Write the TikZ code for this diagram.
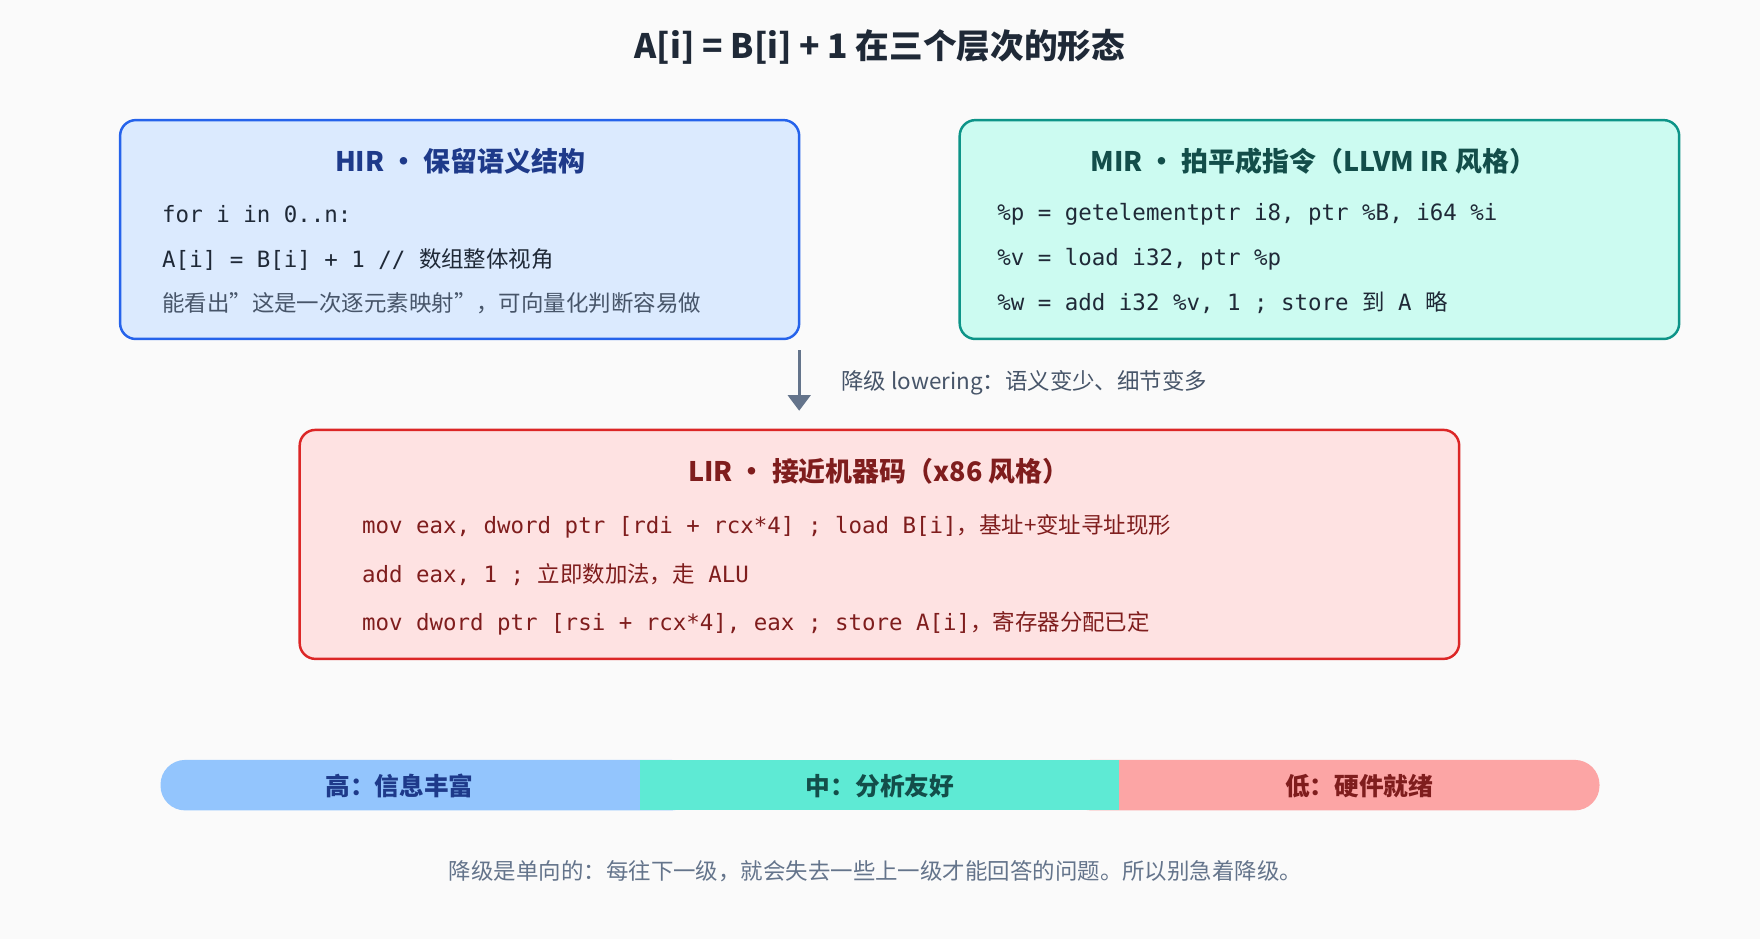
\documentclass[tikz,border=0pt]{standalone}
\usepackage{fontspec}
\setmainfont{Noto Sans CJK SC}
\setmonofont{DejaVu Sans Mono}
\newfontfamily\cjk{Noto Sans CJK SC}
\usetikzlibrary{arrows.meta}
\definecolor{bg}{HTML}{FAFAFA}
\definecolor{ttl}{HTML}{1F2937}
\definecolor{hfill}{HTML}{DBEAFE}\definecolor{hdraw}{HTML}{2563EB}\definecolor{htext}{HTML}{1E3A8A}
\definecolor{mfill}{HTML}{CCFBF1}\definecolor{mdraw}{HTML}{0D9488}\definecolor{mtext}{HTML}{134E4A}
\definecolor{lfill}{HTML}{FEE2E2}\definecolor{ldraw}{HTML}{DC2626}\definecolor{ltext}{HTML}{7F1D1D}
\definecolor{gr}{HTML}{475569}\definecolor{arr}{HTML}{64748B}
\definecolor{b1}{HTML}{93C5FD}\definecolor{b2}{HTML}{5EEAD4}\definecolor{b3}{HTML}{FCA5A5}
\begin{document}
\begin{tikzpicture}[x=1pt,y=-1pt,
 box/.style={rounded corners=14pt,line width=2.2pt},
 btitle/.style={font=\fontsize{24}{28}\selectfont\bfseries},
 code/.style={anchor=west,font=\fontsize{20}{24}\selectfont\ttfamily,text=ttl},
 seg/.style={font=\fontsize{22}{26}\selectfont\bfseries}]
\useasboundingbox[fill=bg] (0,0) rectangle (1568,837);
\node[font=\fontsize{30}{34}\selectfont\bfseries,text=ttl] (title) at (784,42) {A[i] = B[i] + 1 在三个层次的形态};
% HIR
\draw[box,fill=hfill,draw=hdraw] (107,107) rectangle (712,302);
\node[btitle,text=htext] (ht) at (410,144) {HIR • 保留语义结构};
\node[code] (h1) at (141,191) {for i in 0..n:};
\node[code] (h2) at (141,231) {A[i] = B[i] + 1 // {\cjk 数组整体视角}};
\node[anchor=west,font=\fontsize{20}{24}\selectfont,text=gr] (h3) at (141,270) {能看出"这是一次逐元素映射"，可向量化判断容易做};
% MIR
\draw[box,fill=mfill,draw=mdraw] (855,107) rectangle (1496,302);
\node[btitle,text=mtext] (mt) at (1170,144) {MIR • 拍平成指令（LLVM IR 风格）};
\node[code] (m1) at (885,191) {\%p = getelementptr i8, ptr \%B, i64 \%i};
\node[code] (m2) at (885,231) {\%v = load i32, ptr \%p};
\node[code] (m3) at (885,270) {\%w = add i32 \%v, 1 ; store {\cjk 到} A {\cjk 略}};
% arrow
\coordinate (a1) at (712,312); \coordinate (a2) at (712,366);
\draw[arr,line width=3pt,-{Triangle[length=14pt,width=20pt]}] (a1) -- (a2);
\node[anchor=west,font=\fontsize{20}{24}\selectfont,text=gr] (al) at (746,341) {降级 lowering：语义变少、细节变多};
% LIR
\draw[box,fill=lfill,draw=ldraw] (267,383) rectangle (1300,587);
\node[btitle,text=ltext] (lt) at (783,420) {LIR • 接近机器码（x86 风格）};
\node[code,text=ltext] (l1) at (319,469) {mov eax, dword ptr [rdi + rcx*4] ; load B[i]{\cjk ，基址+变址寻址现形}};
\node[code,text=ltext] (l2) at (319,512) {add eax, 1 ; {\cjk 立即数加法，走} ALU};
\node[code,text=ltext] (l3) at (319,555) {mov dword ptr [rsi + rcx*4], eax ; store A[i]{\cjk ，寄存器分配已定}};
% bar
\fill[b1,rounded corners=22pt] (143,677) rectangle (620,722);
\fill[b3,rounded corners=22pt] (950,677) rectangle (1425,722);
\fill[b2] (570,677) rectangle (997,722);
\node[seg,text=htext] (s1) at (356,700) {高：信息丰富};
\node[seg,text=mtext] (s2) at (784,700) {中：分析友好};
\node[seg,text=ltext] (s3) at (1211,700) {低：硬件就绪};
\node[font=\fontsize{20}{24}\selectfont,text=arr] (foot) at (780,776) {降级是单向的：每往下一级，就会失去一些上一级才能回答的问题。所以别急着降级。};
\end{tikzpicture}
\end{document}
